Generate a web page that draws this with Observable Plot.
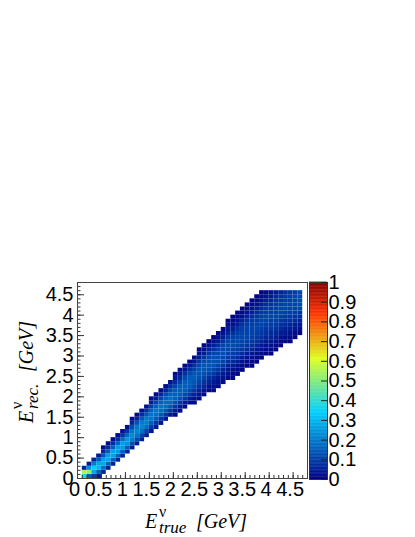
<!DOCTYPE html>
<html><head><meta charset="utf-8">
<script src="https://cdn.jsdelivr.net/npm/d3@7"></script>
<script src="https://cdn.jsdelivr.net/npm/@observablehq/plot@0.6"></script>
<style>
html,body{margin:0;padding:0;background:#fff;}
#wrap{position:relative;width:415px;height:537px;overflow:hidden;}
#wrap svg{position:absolute;overflow:visible;}
</style></head><body><div id="wrap"></div>
<script>
// ---- data ----
const binWidth = 0.1;
// lower edge of each E_true bin that holds entries
const trueLow = [0.1,0.2,0.3,0.4,0.5,0.6,0.7,0.8,0.9,1.0,1.1,1.2,1.3,1.4,1.5,1.6,1.7,1.8,1.9,2.0,2.1,2.2,2.3,2.4,2.5,2.6,2.7,2.8,2.9,3.0,3.1,3.2,3.3,3.4,3.5,3.6,3.7,3.8,3.9,4.0,4.1,4.2,4.3,4.4,4.5,4.6];
// lower edge of the first filled E_rec bin in each column
const recStart = [0,0,0,0,0.1,0.2,0.3,0.4,0.5,0.6,0.7,0.8,0.9,1.0,1.1,1.2,1.3,1.4,1.5,1.5,1.6,1.7,1.8,1.8,1.9,2.0,2.1,2.1,2.2,2.3,2.4,2.4,2.5,2.6,2.7,2.7,2.8,2.9,3.0,3.0,3.1,3.2,3.3,3.3,3.4,3.5];
// bin contents (percent, column normalised), bottom to top
const cellPercent = [
 [38,55,6],
 [15,52,24,5],
 [10,28,34,20,6],
 [4,16,30,28,15,5],
 [6,18,28,26,14,6,2],
 [6,16,28,26,15,7,2],
 [6,16,27,27,15,7,2],
 [6,16,26,26,16,8,2],
 [6,15,25,26,17,8,3],
 [6,15,24,25,17,9,3],
 [5,12,20,23,19,12,6,2],
 [5,12,19,22,20,13,6,2],
 [5,11,18,22,20,14,7,3],
 [5,11,18,21,20,14,8,3],
 [4,9,15,19,19,16,10,5,2],
 [4,9,15,18,19,16,11,5,2],
 [4,9,14,18,19,16,11,6,2],
 [4,9,14,18,18,16,12,6,2],
 [4,9,14,17,18,16,12,7,3],
 [2,5,9,13,16,16,15,11,7,4,2],
 [2,5,9,13,15,16,15,11,7,4,2],
 [2,5,9,12,15,16,15,12,8,4,2],
 [2,5,9,12,15,16,15,12,8,4,2],
 [2,3,6,9,12,14,15,14,11,8,4,2],
 [2,3,6,8,11,13,14,14,12,9,5,3,1],
 [2,3,6,8,11,13,14,14,12,9,5,3,1],
 [2,3,6,8,11,13,14,13,12,9,6,3,1],
 [2,3,4,6,9,11,13,13,13,11,8,5,3,1],
 [2,3,4,6,9,11,13,13,12,11,8,5,3,1],
 [2,3,4,6,9,11,12,13,12,11,8,5,3,1],
 [2,3,4,6,8,10,11,12,12,11,9,6,4,2,1],
 [1,2,3,5,7,9,10,11,12,11,10,8,5,3,2,1],
 [1,2,3,5,7,9,10,11,12,11,10,8,5,3,2,1],
 [1,2,3,5,7,9,10,11,11,11,10,8,6,3,2,1],
 [1,2,3,5,7,9,10,11,11,11,10,8,6,3,2,1],
 [1,2,3,4,6,8,9,10,11,11,10,9,7,5,3,2,1],
 [1,2,3,4,6,8,9,10,11,11,10,9,7,5,3,2,1],
 [1,2,3,4,6,8,9,10,11,11,10,9,7,5,3,2,1],
 [1,2,3,4,6,8,9,10,11,11,10,9,7,5,3,2],
 [1,2,3,4,6,7,9,10,10,11,10,9,8,6,4,3],
 [1,2,3,5,6,8,9,10,11,10,10,9,8,6,4],
 [1,2,3,5,7,8,9,10,11,11,10,9,8,6],
 [1,2,4,5,7,8,9,10,11,11,10,9,8],
 [1,2,3,5,6,8,9,10,11,11,10,10,9],
 [1,2,4,5,7,8,10,11,11,11,11,10],
 [1,3,4,6,8,9,11,12,12,12,12]
];
const axisMax = 4.8;
const axisTicks = [0,0.5,1,1.5,2,2.5,3,3.5,4,4.5];
const zTicks = [0,0.1,0.2,0.3,0.4,0.5,0.6,0.7,0.8,0.9,1];
const paletteStops = [0,0.34,0.61,0.84,1];
const paletteColors = ["rgb(0,0,130)","rgb(0,207,255)","rgb(222,255,31)","rgb(255,51,0)","rgb(130,0,0)"];

// ---- build ----
const cells = [];
trueLow.forEach((x, k) => cellPercent[k].forEach((p, j) => {
  const y = recStart[k] + j * binWidth;
  cells.push({x1: x, x2: x + binWidth, y1: y, y2: y + binWidth, v: p / 100});
}));
const rainbow = d3.scaleLinear().domain(paletteStops).range(paletteColors).interpolate(d3.interpolateRgb).clamp(true);
const colorOpt = {type: "linear", domain: [0, 1], interpolate: t => rainbow(t)};
const minor = d3.range(0, Math.round(axisMax / binWidth) + 1).map(i => i * binWidth);
const W = 415, H = 537;
const mL = 77, mR = 108, mT = 282, mB = 59;
const iw = W - mL - mR, ih = H - mT - mB;
const font = "'Liberation Sans', Arial, Helvetica, sans-serif";
const tickColor = "#333";
const labelSize = 20;

const main = Plot.plot({
  width: W, height: H,
  marginLeft: mL, marginRight: mR, marginTop: mT, marginBottom: mB,
  x: {domain: [0, axisMax], axis: null},
  y: {domain: [0, axisMax], axis: null},
  color: colorOpt,
  style: {fontFamily: font, background: "transparent", color: "#000"},
  marks: [
    Plot.rect(cells, {x1: "x1", x2: "x2", y1: "y1", y2: "y2", fill: "v"}),
    Plot.ruleX(minor, {x: d => d, stroke: tickColor, insetTop: ih - 3}),
    Plot.ruleX(axisTicks, {x: d => d, stroke: tickColor, insetTop: ih - 6}),
    Plot.ruleY(minor, {y: d => d, stroke: tickColor, insetRight: iw - 3.5}),
    Plot.ruleY(axisTicks, {y: d => d, stroke: tickColor, insetRight: iw - 7}),
    Plot.frame({stroke: "#444"}),
    Plot.text(axisTicks, {x: d => d, text: d => String(d), frameAnchor: "bottom", lineAnchor: "top", dy: 3, dx: -3, fontSize: labelSize, fill: "#000"}),
    Plot.text(axisTicks, {y: d => d, text: d => String(d), frameAnchor: "left", textAnchor: "end", dx: -4, fontSize: labelSize, fill: "#000"})
  ]
});
main.style.left = "0px"; main.style.top = "0px";

const cbTop = 272, cbH = 217, cbL = 309, cbW = 106, cbInner = 18;
const levels = d3.range(0, 255).map(i => i / 255);
const cbar = Plot.plot({
  width: cbW, height: cbH,
  marginLeft: 0, marginRight: cbW - cbInner, marginTop: 10, marginBottom: 10,
  x: {domain: [0, 1], axis: null},
  y: {domain: [0, 1], axis: null},
  color: colorOpt,
  style: {fontFamily: font, background: "transparent", color: "#000"},
  marks: [
    Plot.rect(levels, {x1: 0, x2: 1, y1: d => d, y2: d => d + 1 / 255 + 0.002, fill: d => d + 0.5 / 255}),
    Plot.frame({stroke: "#333"}),
    Plot.ruleY(zTicks, {y: d => d, stroke: "#222", insetLeft: cbInner - 6}),
    Plot.text(zTicks, {y: d => d, text: d => String(d), frameAnchor: "right", textAnchor: "start", dx: 1, fontSize: labelSize, fill: "#000"})
  ]
});
cbar.style.left = cbL + "px"; cbar.style.top = cbTop + "px";

const wrap = document.getElementById("wrap");
wrap.appendChild(main);
wrap.appendChild(cbar);

// axis titles
const ov = d3.select(wrap).append("svg").attr("width", W).attr("height", H)
  .style("left", "0px").style("top", "0px");
function title(g, sub) {
  const serif = "'Liberation Serif', 'Times New Roman', serif";
  g.append("text").attr("x", 0).attr("y", 0).attr("font-family", serif).attr("font-style", "italic").attr("font-size", 20).text("E");
  g.append("text").attr("x", 14).attr("y", -11).attr("font-family", serif).attr("font-size", 16).text("ν");
  g.append("text").attr("x", 14).attr("y", 5).attr("font-family", serif).attr("font-style", "italic").attr("font-size", 17).text(sub);
  g.append("text").attr("x", 51).attr("y", 0).attr("font-family", serif).attr("font-style", "italic").attr("font-size", 20).text("[GeV]");
}
title(ov.append("g").attr("transform", "translate(145,528)"), "true");
title(ov.append("g").attr("transform", "translate(33,423) rotate(-90)"), "rec.");
</script>
</body></html>
